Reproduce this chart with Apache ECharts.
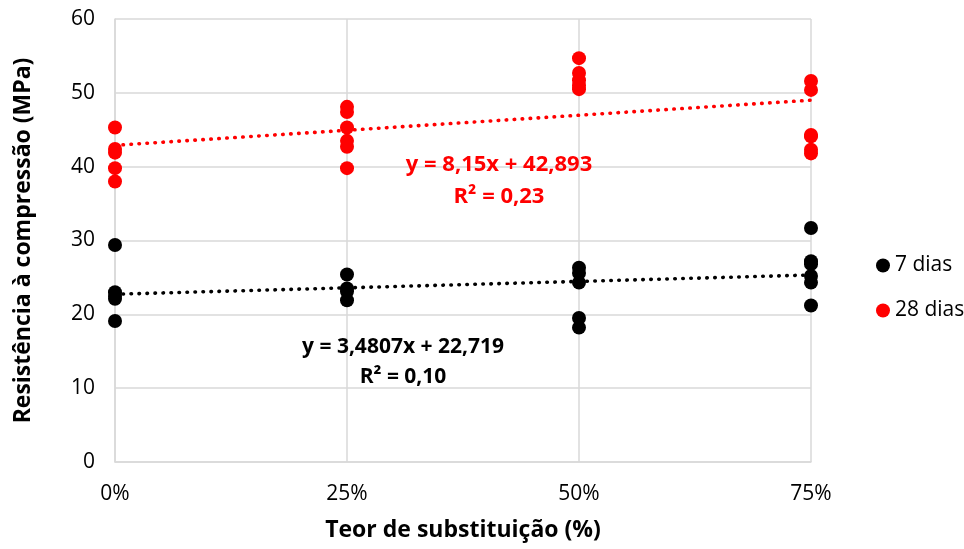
<!DOCTYPE html>
<html>
<head>
<meta charset="utf-8">
<script src="https://cdn.jsdelivr.net/npm/echarts@6/dist/echarts.min.js"></script>
<style>
  html, body { margin: 0; padding: 0; background: #fff; }
  #chart { width: 964px; height: 549px; }
</style>
</head>
<body>
<div id="chart"></div>
<script>
// Substitution levels (fraction) and the individual specimen results (MPa)
const levels = [0, 0.25, 0.5, 0.75];
const tickLabels = ['0%', '25%', '50%', '75%'];

const dias7 = [
  [29.4, 23.0, 22.5, 22.1, 19.1],
  [25.4, 23.5, 23.1, 21.9],
  [26.3, 25.6, 24.3, 19.5, 18.2],
  [31.7, 27.2, 26.8, 25.2, 24.3, 21.2]
];
const dias28 = [
  [45.3, 42.4, 41.9, 39.8, 38.0],
  [48.1, 47.4, 45.3, 43.5, 42.7, 39.8],
  [54.7, 52.7, 51.7, 51.0, 50.5],
  [51.6, 50.4, 44.3, 44.1, 42.3, 41.8]
];

// Linear trendlines: y = slope * x + intercept
const trend7 = { slope: 3.4807, intercept: 22.719, r2: '0,10' };
const trend28 = { slope: 8.15, intercept: 42.893, r2: '0,23' };

const seriesNames = ['7 dias', '28 dias'];
const colors = ['#000000', '#ff0000'];

function toPoints(groups) {
  const pts = [];
  groups.forEach((vals, i) => vals.forEach(v => pts.push([levels[i], v])));
  return pts;
}
function trendPoints(t) {
  const x0 = levels[0], x1 = levels[levels.length - 1];
  return [[x0, t.slope * x0 + t.intercept], [x1, t.slope * x1 + t.intercept]];
}
function fmt(n) { return String(n).replace('.', ','); }

const font = "'Open Sans', 'Noto Sans', sans-serif";
const chart = echarts.init(document.getElementById('chart'), null, { renderer: 'canvas' });

const trendStyle = (c) => ({
  type: 'line',
  silent: true,
  showSymbol: false,
  symbol: 'none',
  z: 1,
  lineStyle: { color: c, width: 3.6, type: [0.5, 7.5], cap: 'round' },
  tooltip: { show: false }
});

chart.setOption({
  animation: false,
  backgroundColor: '#ffffff',
  textStyle: { fontFamily: font },
  grid: { left: 115, right: 153, top: 19, bottom: 87, containLabel: false, outerBoundsMode: 'none' },
  legend: {
    data: seriesNames,
    orient: 'vertical',
    left: 871,
    top: 250,
    itemGap: 24,
    itemWidth: 14,
    itemHeight: 14,
    icon: 'circle',
    textStyle: { fontFamily: font, fontSize: 21, color: '#000' }
  },
  xAxis: {
    type: 'value',
    min: 0,
    max: 0.75,
    interval: 0.25,
    name: 'Teor de substituição (%)',
    nameLocation: 'middle',
    nameGap: 57,
    nameTextStyle: { fontFamily: font, fontSize: 23, fontWeight: 'bold', color: '#000' },
    axisLine: { show: true, lineStyle: { color: '#d9d9d9', width: 1.5 } },
    axisTick: { show: false },
    axisLabel: {
      margin: 22, fontSize: 21, color: '#000', fontFamily: font,
      formatter: v => tickLabels[levels.indexOf(Math.round(v * 100) / 100)] || ''
    },
    splitLine: { show: true, lineStyle: { color: '#d9d9d9', width: 1.5 } }
  },
  yAxis: {
    type: 'value',
    min: 0,
    max: 60,
    interval: 10,
    name: 'Resistência à compressão (MPa)',
    nameLocation: 'middle',
    nameGap: 80,
    nameRotate: 90,
    nameTextStyle: { fontFamily: font, fontSize: 23, fontWeight: 'bold', color: '#000' },
    axisLine: { show: true, lineStyle: { color: '#d9d9d9', width: 1.5 } },
    axisTick: { show: false },
    axisLabel: { margin: 20, fontSize: 21, color: '#000', fontFamily: font },
    splitLine: { show: true, lineStyle: { color: '#d9d9d9', width: 1.5 } }
  },
  series: [
    {
      name: seriesNames[0], type: 'scatter', symbol: 'circle', symbolSize: 14, z: 3,
      itemStyle: { color: colors[0], opacity: 1 },
      data: toPoints(dias7)
    },
    {
      name: seriesNames[1], type: 'scatter', symbol: 'circle', symbolSize: 14, z: 3,
      itemStyle: { color: colors[1], opacity: 1 },
      data: toPoints(dias28)
    },
    Object.assign({ name: 'trend7', data: trendPoints(trend7) }, trendStyle(colors[0])),
    Object.assign({ name: 'trend28', data: trendPoints(trend28) }, trendStyle(colors[1]))
  ],
  graphic: [
    {
      type: 'text', z: 10,
      style: {
        x: 499, y: 181, align: 'center', verticalAlign: 'middle',
        text: 'y = ' + fmt(trend28.slope) + 'x + ' + fmt(trend28.intercept) + '\nR² = ' + trend28.r2,
        fill: colors[1], font: 'bold 22px ' + font, lineHeight: 32
      }
    },
    {
      type: 'text', z: 10,
      style: {
        x: 403, y: 362, align: 'center', verticalAlign: 'middle',
        text: 'y = ' + fmt(trend7.slope) + 'x + ' + fmt(trend7.intercept) + '\nR² = ' + trend7.r2,
        fill: colors[0], font: 'bold 21px ' + font, lineHeight: 30
      }
    }
  ]
});
</script>
</body>
</html>
